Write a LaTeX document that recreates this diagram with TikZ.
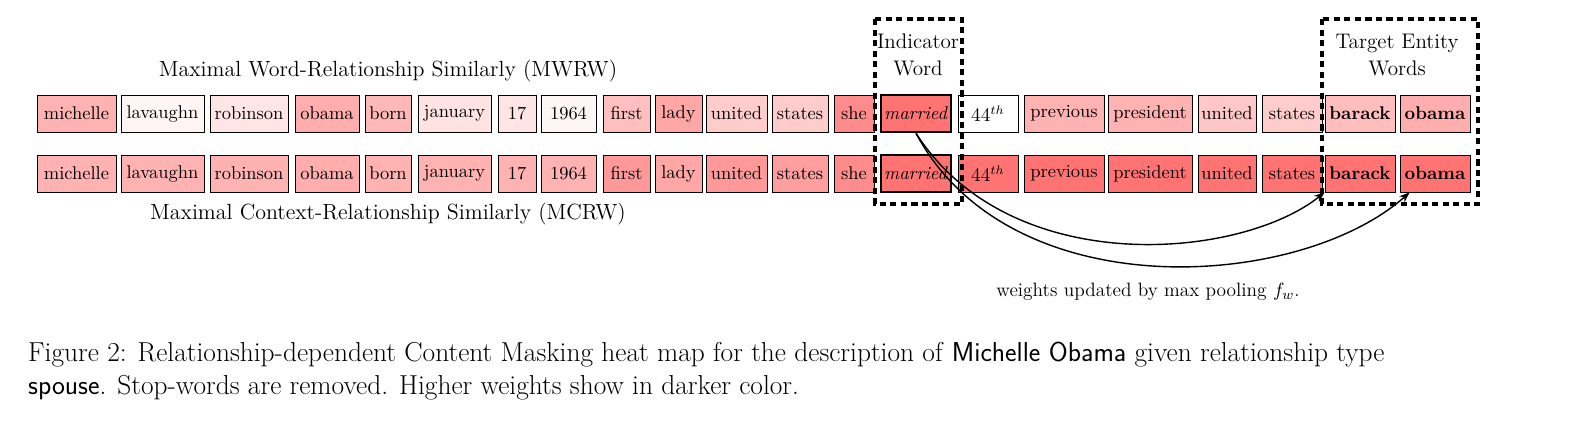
\documentclass[tikz,border=0pt]{standalone}
\usepackage{amsmath}
\usepackage{tikz}
\usetikzlibrary{arrows.meta}
\tikzset{
  word/.style={rectangle,draw,inner sep=0pt,minimum height=37*0.02cm,font=\fontsize{10.5}{12}\selectfont},
  groupbox/.style={draw,line width=2.6pt,dash pattern=on 3.5pt off 2.5pt},
}
\begin{document}
\begin{tikzpicture}[x=0.02cm,y=-0.02cm]
\useasboundingbox (0,0) rectangle (1578,420);
% top row (MWRW)
\foreach \name/\a/\b/\txt/\c in {
  t1/37/116/michelle/30, t2/121/204/lavaughn/4, t3/210/288/robinson/10, t4/295/359/obama/32,
  t5/365/411/born/28, t6/418/491/january/11, t7/498/536/17/10, t8/541/596/1964/4,
  t9/603/650/first/25, t10/655/702/lady/35, t11/706/767/united/20, t12/772/828/states/20,
  t13/834/874/she/45, t15/958/1018/$44^{th}$/0, t16/1024/1104/previous/30,
  t17/1108/1192/president/30, t18/1198/1256/united/22, t19/1262/1322/states/20}
  \node (\name) [word,fill=red!\c,minimum width={(\b-\a)*0.02cm}] at ({(\a+\b)/2},113.5) {\txt};
\node (t14) [word,fill=red!55,line width=1.4pt,minimum width=70*0.02cm] at (916,113.5) {\textit{married}};
\node (t20) [word,fill=red!26,minimum width=70*0.02cm] at (1360,113.5) {\textbf{barack}};
\node (t21) [word,fill=red!32,minimum width=70*0.02cm] at (1435,113.5) {\textbf{obama}};
% bottom row (MCRW)
\foreach \name/\a/\b/\txt/\c in {
  b1/37/116/michelle/30, b2/121/204/lavaughn/30, b3/210/288/robinson/30, b4/295/359/obama/32,
  b5/365/411/born/30, b6/418/491/january/30, b7/498/536/17/30, b8/541/596/1964/30,
  b9/603/650/first/40, b10/655/702/lady/35, b11/706/767/united/40, b12/772/828/states/38,
  b13/834/874/she/45, b15/958/1018/$44^{th}$/55, b16/1024/1104/previous/55,
  b17/1108/1192/president/55, b18/1198/1256/united/55, b19/1262/1322/states/55}
  \node (\name) [word,fill=red!\c,minimum width={(\b-\a)*0.02cm}] at ({(\a+\b)/2},173.5) {\txt};
\node (b14) [word,fill=red!55,line width=1.4pt,minimum width=70*0.02cm] at (916,173.5) {\textit{married}};
\node (b20) [word,fill=red!55,minimum width=70*0.02cm] at (1360,173.5) {\textbf{barack}};
\node (b21) [word,fill=red!55,minimum width=70*0.02cm] at (1435,173.5) {\textbf{obama}};
% labels
\node (mwrw) at (388,71) {\fontsize{12.5}{14}\selectfont Maximal Word-Relationship Similarly (MWRW)};
\node (mcrw) at (388,214) {\fontsize{12.5}{14}\selectfont Maximal Context-Relationship Similarly (MCRW)};
\node (ind) [align=center,font=\fontsize{12}{15}\selectfont] at (918,55) {Indicator\\Word};
\node (tgt) [align=center,font=\fontsize{12}{15}\selectfont] at (1397,55) {Target Entity\\Words};
\node (wup) at (1148,292) {\fontsize{11}{13}\selectfont weights updated by max pooling $f_w$.};
\draw [groupbox] (875,19) rectangle (962,204);
\draw [groupbox] (1322,19) rectangle (1478,204);
% arrows
\draw [-{Stealth[length=6pt]},thick] (t14.south) .. controls (1010,280) and (1240,260) .. (b20.south west);
\draw [-{Stealth[length=6pt]},thick] (t14.south) .. controls (1010,310) and (1300,290) .. ([xshift=10*0.02cm]b21.south west);
% caption
\node (cap) [anchor=north west,align=left,font=\fontsize{15.6}{18.5}\selectfont] at (22,336)
  {Figure 2: Relationship-dependent Content Masking heat map for the description of \textsf{Michelle Obama} given relationship type\\
   \textsf{spouse}. Stop-words are removed. Higher weights show in darker color.};
\end{tikzpicture}
\end{document}
